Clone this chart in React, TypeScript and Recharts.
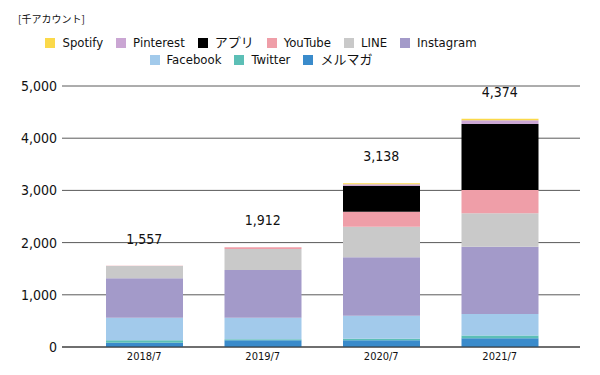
import React from 'react';
import { ComposedChart, Bar, Line, XAxis, YAxis, CartesianGrid, LabelList } from 'recharts';

const categories = ['2018/7', '2019/7', '2020/7', '2021/7'];
const mailmag = [80, 130, 130, 170];
const twitter = [50, 20, 30, 50];
const facebook = [431, 411, 440, 412];
const instagram = [755, 914, 1118, 1289];
const lineApp = [236, 402, 587, 640];
const youtube = [5, 35, 287, 447];
const app = [0, 0, 492, 1264];
const pinterest = [0, 0, 36, 70];
const spotify = [0, 0, 18, 32];
const totals = [1557, 1912, 3138, 4374];
const yTicks = [0, 1000, 2000, 3000, 4000, 5000];

const series = [
  { key: 'mailmag', name: 'メルマガ', color: '#3a8bcb', values: mailmag },
  { key: 'twitter', name: 'Twitter', color: '#5cbfb6', values: twitter },
  { key: 'facebook', name: 'Facebook', color: '#a2caeb', values: facebook },
  { key: 'instagram', name: 'Instagram', color: '#a39ac9', values: instagram },
  { key: 'line', name: 'LINE', color: '#c9c9c9', values: lineApp },
  { key: 'youtube', name: 'YouTube', color: '#ef9ea8', values: youtube },
  { key: 'app', name: 'アプリ', color: '#000000', values: app },
  { key: 'pinterest', name: 'Pinterest', color: '#caa6d3', values: pinterest },
  { key: 'spotify', name: 'Spotify', color: '#fbd94a', values: spotify },
];

const data = categories.map((c, i) => {
  const row: Record<string, any> = { cat: c, total: totals[i] };
  series.forEach((s) => { row[s.key] = s.values[i]; });
  return row;
});

const legendRow1 = ['spotify', 'pinterest', 'app', 'youtube', 'line', 'instagram'];
const legendRow2 = ['facebook', 'twitter', 'mailmag'];

const FONT = '"DejaVu Sans Condensed", "Noto Sans CJK JP", sans-serif';

function LegendRow({ keys, top }: { keys: string[]; top: number }) {
  return (
    <div style={{ position: 'absolute', left: 0, top, width: 522, display: 'flex', justifyContent: 'center', gap: 13, fontFamily: FONT, fontSize: 13, color: '#111', lineHeight: '16px' }}>
      {keys.map((k) => {
        const s = series.find((x) => x.key === k)!;
        return (
          <div key={k} style={{ display: 'flex', alignItems: 'center' }}>
            <span style={{ display: 'inline-block', width: 10, height: 10, background: s.color, marginRight: 7 }} />
            <span>{s.name}</span>
          </div>
        );
      })}
    </div>
  );
}

export default function App() {
  return (
    <div style={{ position: 'absolute', left: 0, top: 0, width: 600, height: 375, background: '#fff', overflow: 'hidden' }}>
      <div style={{ position: 'absolute', left: 18, top: 11, fontFamily: '"Noto Sans CJK JP", sans-serif', fontSize: 10, color: '#111' }}>[千アカウント]</div>
      <LegendRow keys={legendRow1} top={35} />
      <LegendRow keys={legendRow2} top={52} />
      <div style={{ position: 'absolute', left: 0, top: 0 }}>
        <ComposedChart width={600} height={375} data={data} margin={{ top: 86, right: 20, bottom: 8, left: 0 }} barCategoryGap={0}>
          <CartesianGrid vertical={false} stroke="#5a5a5a" strokeWidth={1} />
          <XAxis dataKey="cat" padding={{ left: 23, right: 21 }} tickLine={false} axisLine={{ stroke: '#333', strokeWidth: 1.2 }} tick={{ fontSize: 11, fill: '#111', fontFamily: FONT }} tickSize={3} tickMargin={2} height={20} />
          <YAxis domain={[0, 5000]} ticks={yTicks} width={62} tickLine={false} axisLine={false} tickSize={5} tickMargin={0} tickFormatter={(v: number) => v.toLocaleString('en-US')} tick={{ fontSize: 14, fill: '#111', fontFamily: FONT }} />
          {series.map((s) => (
            <Bar key={s.key} dataKey={s.key} stackId="a" fill={s.color} barSize={77} isAnimationActive={false} />
          ))}
          <Line dataKey="total" stroke="none" dot={false} activeDot={false} isAnimationActive={false}>
            <LabelList dataKey="total" position="top" offset={22} formatter={(v: any) => Number(v).toLocaleString('en-US')} style={{ fontSize: 14, fill: '#111', fontFamily: FONT }} />
          </Line>
        </ComposedChart>
      </div>
    </div>
  );
}
